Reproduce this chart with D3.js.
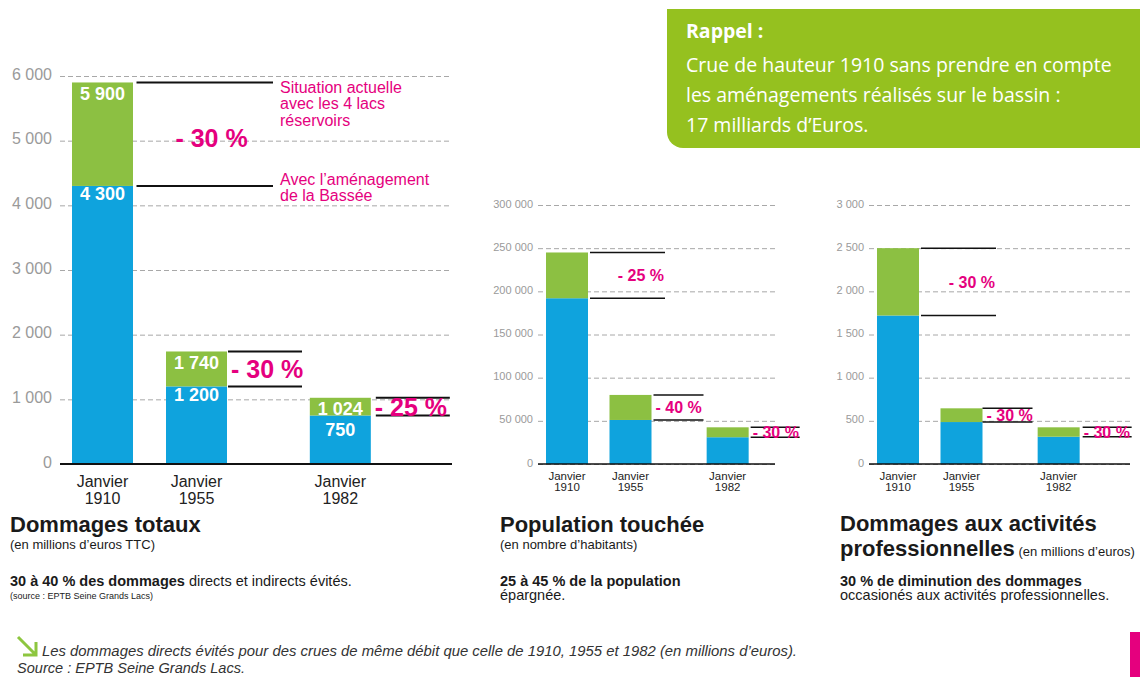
<!DOCTYPE html>
<html>
<head>
<meta charset="utf-8">
<script src="https://cdn.jsdelivr.net/npm/d3@7"></script>
<style>
  html, body { margin: 0; padding: 0; background: #fff; }
  svg { display: block; font-family: "Liberation Sans", Arial, sans-serif; }
</style>
</head>
<body>
<svg id="chart" width="1140" height="677"></svg>
<script>
// ---- data -------------------------------------------------------------
const years = ["1910", "1955", "1982"];
const monthLabel = "Janvier";

// Dommages totaux (millions d'euros TTC)
const totalTicks = [0, 1000, 2000, 3000, 4000, 5000, 6000];
const totalBefore = [5900, 1740, 1024];
const totalAfter = [4300, 1200, 750];
const totalCuts = ["- 30 %", "- 30 %", "- 25 %"];

// Population touchée (habitants)
const popTicks = [0, 50000, 100000, 150000, 200000, 250000, 300000];
const popBefore = [245000, 80000, 42500];
const popAfter = [192000, 51000, 31000];
const popCuts = ["- 25 %", "- 40 %", "- 30 %"];

// Dommages aux activités professionnelles (millions d'euros)
const proTicks = [0, 500, 1000, 1500, 2000, 2500, 3000];
const proBefore = [2500, 645, 425];
const proAfter = [1720, 486, 316];
const proCuts = ["- 30 %", "- 30 %", "- 30 %"];

// ---- styling ----------------------------------------------------------
const BLUE = "#0fa3dd";
const GREEN = "#8cc042";
const PINK = "#e5007e";
const LIME = "#95c11f";

const fr = d3.formatLocale({ decimal: ",", thousands: " ", grouping: [3], currency: ["", " €"] });
const fmt = fr.format(",d");

const svg = d3.select("#chart");

// bar slot positions along each panel (1982 sits a little further out)
const slots = [0, 1, 2.53];

const panels = [
  {
    ticks: totalTicks, before: totalBefore, after: totalAfter, cuts: totalCuts,
    yTop: 76, yBase: 464, gx0: 60, gx1: 452, c0: 102.5, step: 94, barW: 61,
    tickFont: 16, tickPad: 8, catFont: 16, catY: [481, 498], pctFont: 25,
    lineStart: [3.5, 1, 5], lineLen: [140, 75, 79], lineW: 2, baseW: 2.2,
    firstPct: "middle", firstPctDy: 4, values: true
  },
  {
    ticks: popTicks, before: popBefore, after: popAfter, cuts: popCuts,
    yTop: 205, yBase: 464, gx0: 538, gx1: 775, c0: 567, step: 63.5, barW: 42,
    tickFont: 11, tickPad: 5, catFont: 11.5, catY: [476, 486.5], pctFont: 16,
    lineStart: [2, 2, 2], lineLen: [77, 52, 51], lineW: 1.5, baseW: 1.6,
    firstPct: "end", firstPctDy: 0, values: false
  },
  {
    ticks: proTicks, before: proBefore, after: proAfter, cuts: proCuts,
    yTop: 205, yBase: 464, gx0: 869, gx1: 1130, c0: 898, step: 63.5, barW: 42,
    tickFont: 11, tickPad: 5, catFont: 11.5, catY: [476, 486.5], pctFont: 16,
    lineStart: [2, 0, 3], lineLen: [77, 50, 52], lineW: 1.5, baseW: 1.6,
    firstPct: "end", firstPctDy: 0, values: false
  }
];

panels.forEach(p => {
  const g = svg.append("g");
  const y = d3.scaleLinear().domain([0, d3.max(p.ticks)]).range([p.yBase, p.yTop]);
  const x = d3.scaleLinear().domain([0, 1]).range([p.c0, p.c0 + p.step]);

  // gridlines + tick labels
  const axis = d3.axisLeft(y)
    .tickValues(p.ticks)
    .tickFormat(fmt)
    .tickSize(-(p.gx1 - p.gx0))
    .tickPadding(p.tickPad);
  const ax = g.append("g").attr("transform", `translate(${p.gx0},0)`).call(axis);
  ax.select(".domain").remove();
  ax.selectAll(".tick line")
    .attr("stroke", "#a8a8a8")
    .attr("stroke-width", 1)
    .attr("stroke-dasharray", "5,3");
  ax.selectAll(".tick text")
    .attr("fill", "#9a9a9a")
    .attr("dy", "0.19em")
    .style("font-size", p.tickFont + "px")
    .style("font-family", "'Liberation Sans', Arial, sans-serif");

  const bars = g.append("g").selectAll("g")
    .data(years.map((yr, i) => ({ yr, i, before: p.before[i], after: p.after[i], cut: p.cuts[i] })))
    .join("g");

  // blue: remaining damage, green: damage avoided
  bars.append("rect")
    .attr("x", d => x(slots[d.i]) - p.barW / 2)
    .attr("width", p.barW)
    .attr("y", d => y(d.after))
    .attr("height", d => y(0) - y(d.after))
    .attr("fill", BLUE);
  bars.append("rect")
    .attr("x", d => x(slots[d.i]) - p.barW / 2)
    .attr("width", p.barW)
    .attr("y", d => y(d.before))
    .attr("height", d => y(d.after) - y(d.before))
    .attr("fill", GREEN);

  // bracket lines next to each bar
  const right = d => x(slots[d.i]) + p.barW / 2;
  [d => d.before, d => d.after].forEach(acc => {
    bars.append("line")
      .attr("x1", d => right(d) + p.lineStart[d.i])
      .attr("x2", d => right(d) + p.lineLen[d.i])
      .attr("y1", d => y(acc(d)))
      .attr("y2", d => y(acc(d)))
      .attr("stroke", "#111")
      .attr("stroke-width", p.lineW);
  });

  // reduction percentages
  bars.append("text")
    .attr("x", d => {
      const s = right(d) + p.lineStart[d.i], e = right(d) + p.lineLen[d.i];
      if (d.i === 0) return p.firstPct === "middle" ? s + (e - s) * 0.55 : e - 1;
      return right(d) + 4;
    })
    .attr("y", d => (y(d.before) + y(d.after)) / 2 + (d.i === 0 ? p.firstPctDy : 0))
    .attr("dy", "0.36em")
    .attr("text-anchor", d => d.i === 0 ? p.firstPct : "start")
    .attr("fill", PINK)
    .attr("font-weight", "bold")
    .style("font-size", p.pctFont + "px")
    .text(d => d.cut);

  // value labels inside the bars (the lower one never crowds the upper one)
  if (p.values) {
    const topLabelY = d => y(d.before) + 11;
    const lowLabelY = d => Math.max(y(d.after) + 8, topLabelY(d) + 21);
    bars.append("text")
      .attr("x", d => x(slots[d.i]))
      .attr("y", topLabelY)
      .attr("dy", "0.36em")
      .attr("text-anchor", "middle")
      .attr("fill", "#fff")
      .attr("font-weight", "bold")
      .style("font-size", "18px")
      .text(d => fmt(d.before));
    bars.append("text")
      .attr("x", d => x(slots[d.i]))
      .attr("y", lowLabelY)
      .attr("dy", "0.36em")
      .attr("text-anchor", "middle")
      .attr("fill", "#fff")
      .attr("font-weight", "bold")
      .style("font-size", "18px")
      .text(d => fmt(d.after));
  }

  // baseline
  g.append("line")
    .attr("x1", p.gx0).attr("x2", p.gx1)
    .attr("y1", y(0)).attr("y2", y(0))
    .attr("stroke", "#111").attr("stroke-width", p.baseW);

  // category labels
  const cat = bars.append("text")
    .attr("text-anchor", "middle")
    .attr("fill", "#222")
    .style("font-size", p.catFont + "px");
  cat.append("tspan").attr("x", d => x(slots[d.i])).attr("y", p.catY[0]).attr("dy", "0.36em").text(monthLabel);
  cat.append("tspan").attr("x", d => x(slots[d.i])).attr("y", p.catY[1]).attr("dy", "0.36em").text(d => d.yr);

  p.y = y;
});

// notes attached to the first bar of "Dommages totaux"
const yTot = panels[0].y;
const note = (lines, y0) => {
  const t = svg.append("text").attr("fill", PINK).style("font-size", "16px");
  lines.forEach((l, k) => t.append("tspan").attr("x", 280).attr("y", y0 + k * 16.5).attr("dy", "0.36em").text(l));
};
note(["Situation actuelle", "avec les 4 lacs", "réservoirs"], yTot(5900) + 4.5);
note(["Avec l’aménagement", "de la Bassée"], yTot(4300) - 7);

// ---- panel captions ---------------------------------------------------
const cap = svg.append("g").attr("fill", "#1a1a1a");
function line(x, y, parts) {
  const t = cap.append("text").attr("x", x).attr("y", y);
  parts.forEach(([txt, size, bold]) => {
    t.append("tspan").style("font-size", size + "px").attr("font-weight", bold ? "bold" : "normal").text(txt);
  });
}
line(10, 532, [["Dommages totaux", 22, true]]);
line(10, 549, [["(en millions d’euros TTC)", 13, false]]);
line(10, 586, [["30 à 40 % des dommages", 14.5, true], [" directs et indirects évités.", 14.5, false]]);
line(10, 599, [["(source : EPTB Seine Grands Lacs)", 9, false]]);

line(500, 532, [["Population touchée", 22, true]]);
line(500, 549, [["(en nombre d’habitants)", 13, false]]);
line(500, 586, [["25 à 45 % de la population", 14.5, true]]);
line(500, 600, [["épargnée.", 14.5, false]]);

line(840, 531, [["Dommages aux activités", 22, true]]);
line(840, 556, [["professionnelles", 22, true], [" (en millions d’euros)", 13, false]]);
line(840, 586, [["30 % de diminution des dommages", 14.5, true]]);
line(840, 600, [["occasionés aux activités professionnelles.", 14.5, false]]);

// ---- reminder box -----------------------------------------------------
svg.append("path")
  .attr("d", "M667,9 H1140 V148 H683 A16,16 0 0 1 667,132 Z")
  .attr("fill", LIME);
const box = svg.append("g").attr("fill", "#fff").style("font-family", "'Open Sans', 'Noto Sans', sans-serif");
box.append("text").attr("x", 686).attr("y", 38).attr("font-weight", "bold").style("font-size", "19.5px").text("Rappel :");
["Crue de hauteur 1910 sans prendre en compte", "les aménagements réalisés sur le bassin :", "17 milliards d’Euros."]
  .forEach((l, k) => box.append("text").attr("x", 686).attr("y", 72 + k * 30).style("font-size", "19.5px").text(l));

// ---- footnote ---------------------------------------------------------
svg.append("path")
  .attr("d", "M18,637 L35,654 M23,655 H36 V642")
  .attr("fill", "none").attr("stroke", "#8dc63f").attr("stroke-width", 3);
svg.append("text").attr("x", 42).attr("y", 656).attr("fill", "#333").attr("font-style", "italic")
  .style("font-size", "14px").attr("textLength", 755).attr("lengthAdjust", "spacingAndGlyphs")
  .text("Les dommages directs évités pour des crues de même débit que celle de 1910, 1955 et 1982 (en millions d’euros).");
svg.append("text").attr("x", 17).attr("y", 673).attr("fill", "#333").attr("font-style", "italic")
  .style("font-size", "14px").attr("textLength", 228).attr("lengthAdjust", "spacingAndGlyphs")
  .text("Source : EPTB Seine Grands Lacs.");

svg.append("rect").attr("x", 1130).attr("y", 632).attr("width", 10).attr("height", 45).attr("fill", PINK);
</script>
</body>
</html>
